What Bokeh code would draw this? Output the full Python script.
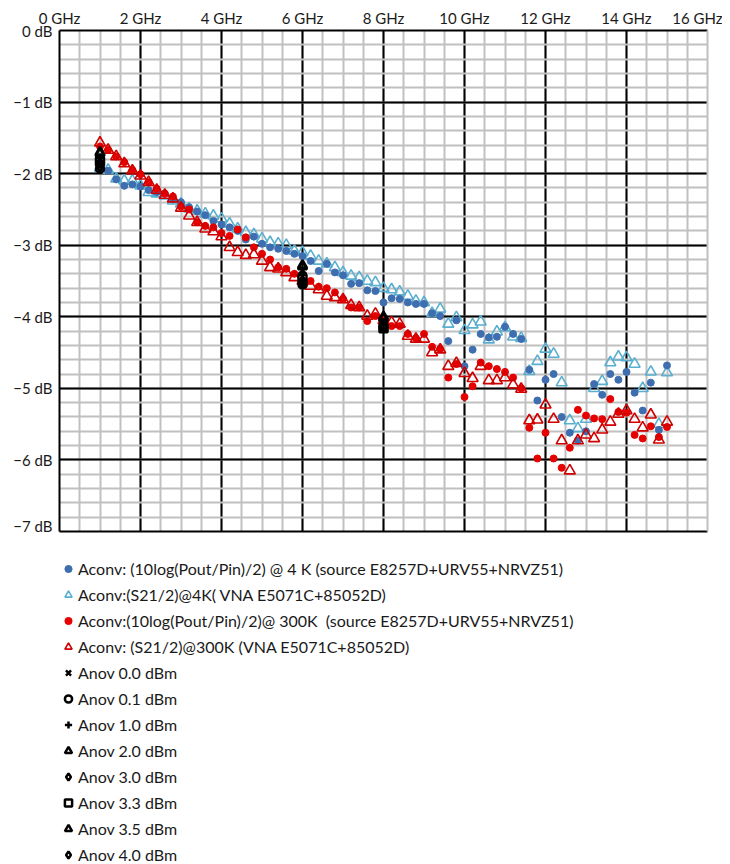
from bokeh.plotting import figure
from bokeh.layouts import column
from bokeh.models import Range1d, FixedTicker, Legend, LegendItem, LinearAxis
from bokeh.embed import file_html
from bokeh.resources import INLINE

# ---------------- data ----------------
freq_ghz = [1.0, 1.2, 1.4, 1.6, 1.8, 2.0, 2.2, 2.4, 2.6, 2.8,
            3.0, 3.2, 3.4, 3.6, 3.8, 4.0, 4.2, 4.4, 4.6, 4.8,
            5.0, 5.2, 5.4, 5.6, 5.8, 6.0, 6.2, 6.4, 6.6, 6.8,
            7.0, 7.2, 7.4, 7.6, 7.8, 8.0, 8.2, 8.4, 8.6, 8.8,
            9.0, 9.2, 9.4, 9.6, 9.8, 10.0, 10.2, 10.4, 10.6, 10.8,
            11.0, 11.2, 11.4, 11.6, 11.8, 12.0, 12.2, 12.4, 12.6, 12.8,
            13.0, 13.2, 13.4, 13.6, 13.8, 14.0, 14.2, 14.4, 14.6, 14.8, 15.0]

aconv_4k_power = [-1.93, -1.96, -2.08, -2.17, -2.15, -2.18, -2.23, -2.26, -2.28, -2.36,
                  -2.40, -2.47, -2.53, -2.58, -2.66, -2.71, -2.75, -2.80, -2.92, -2.88,
                  -2.98, -3.03, -3.05, -3.08, -3.12, -3.15, -3.22, -3.36, -3.26, -3.38,
                  -3.42, -3.54, -3.53, -3.63, -3.64, -3.80, -3.74, -3.75, -3.80, -3.82,
                  -3.82, -3.95, -3.99, -4.34, -4.05, -4.69, -4.46, -4.24, -4.29, -4.28,
                  -4.14, -4.24, -4.31, -4.74, -5.17, -4.88, -4.80, -5.40, -5.62, -5.73,
                  -5.60, -4.94, -5.09, -4.80, -4.88, -4.77, -5.06, -5.31, -4.92, -5.58, -4.68]

aconv_4k_vna = [-1.92, -1.95, -2.07, -2.10, -2.10, -2.17, -2.26, -2.28, -2.31, -2.38,
                -2.42, -2.49, -2.52, -2.56, -2.59, -2.63, -2.70, -2.77, -2.82, -2.85,
                -2.91, -2.96, -2.98, -3.00, -3.08, -3.10, -3.15, -3.22, -3.26, -3.31,
                -3.38, -3.43, -3.45, -3.50, -3.52, -3.60, -3.62, -3.65, -3.71, -3.78,
                -3.80, -3.95, -3.89, -4.10, -4.01, -4.19, -4.11, -4.07, -4.32, -4.21,
                -4.15, -4.28, -4.30, -4.76, -4.62, -4.45, -4.52, -4.92, -5.45, -5.56,
                -5.43, -5.00, -4.90, -4.64, -4.56, -4.57, -4.66, -5.00, -4.77, -5.50, -4.78]

aconv_300k_power = [-1.62, -1.67, -1.76, -1.84, -1.95, -2.01, -2.12, -2.21, -2.28, -2.32,
                    -2.46, -2.50, -2.68, -2.73, -2.75, -2.83, -2.87, -2.78, -2.89, -3.03,
                    -3.12, -3.20, -3.31, -3.33, -3.40, -3.50, -3.50, -3.58, -3.60, -3.66,
                    -3.75, -3.87, -3.87, -4.06, -3.99, -4.03, -4.13, -4.13, -4.24, -4.30,
                    -4.24, -4.42, -4.45, -4.85, -4.66, -5.12, -4.97, -4.64, -4.69, -4.73,
                    -4.77, -4.85, -5.00, -5.55, -5.98, -5.62, -5.98, -6.11, -5.83, -5.30,
                    -5.38, -5.42, -5.43, -5.15, -5.33, -5.34, -5.65, -5.70, -5.53, -5.68, -5.54]

aconv_300k_vna = [-1.57, -1.67, -1.76, -1.86, -1.96, -2.03, -2.12, -2.23, -2.30, -2.35,
                  -2.48, -2.59, -2.68, -2.77, -2.81, -2.88, -3.03, -3.10, -3.14, -3.13,
                  -3.22, -3.31, -3.33, -3.38, -3.45, -3.50, -3.57, -3.62, -3.71, -3.73,
                  -3.76, -3.84, -3.87, -3.99, -3.96, -4.05, -4.08, -4.10, -4.27, -4.31,
                  -4.31, -4.50, -4.46, -4.69, -4.65, -4.79, -4.86, -4.69, -4.89, -4.89,
                  -4.85, -4.95, -5.01, -5.45, -5.44, -5.23, -5.43, -5.73, -6.15, -5.73,
                  -5.65, -5.70, -5.58, -5.47, -5.36, -5.31, -5.43, -5.55, -5.37, -5.72, -5.47]

anov_freq = [1.0, 6.0, 8.0]
anov_0_0 = [-1.80, -3.35, -4.05]
anov_0_1 = [-1.93, -3.55, -4.15]
anov_1_0 = [-1.78, -3.40, -4.08]
anov_2_0 = [-1.72, -3.30, -4.02]
anov_3_0 = [-1.85, -3.50, -4.12]
anov_3_3 = [-1.83, -3.47, -4.16]
anov_3_5 = [-1.70, -3.28, -4.00]
anov_4_0 = [-1.90, -3.53, -4.14]

x_ticks = [0, 2, 4, 6, 8, 10, 12, 14, 16]
x_tick_labels = ["0 GHz", "2 GHz", "4 GHz", "6 GHz", "8 GHz", "10 GHz", "12 GHz", "14 GHz", "16 GHz"]
y_ticks = [0, -1, -2, -3, -4, -5, -6, -7]
y_tick_labels = ["0 dB", "\u22121 dB", "\u22122 dB", "\u22123 dB", "\u22124 dB", "\u22125 dB", "\u22126 dB", "\u22127 dB"]

legend_labels = [
    "Aconv: (10log(Pout/Pin)/2) @ 4 K (source E8257D+URV55+NRVZ51)",
    "Aconv:(S21/2)@4K( VNA E5071C+85052D)",
    "Aconv:(10log(Pout/Pin)/2)@ 300K  (source E8257D+URV55+NRVZ51)",
    "Aconv: (S21/2)@300K (VNA E5071C+85052D)",
    "Anov 0.0 dBm", "Anov 0.1 dBm", "Anov 1.0 dBm", "Anov 2.0 dBm",
    "Anov 3.0 dBm", "Anov 3.3 dBm", "Anov 3.5 dBm", "Anov 4.0 dBm",
]

FONT = "Lato"

# series styles (shared between chart and legend panel)
aconv_series = [
    (aconv_4k_vna, dict(marker="triangle", size=11, fill_color=None, line_color="#5aafd0", line_width=1.6)),
    (aconv_4k_power, dict(marker="circle", size=7, fill_color="#3e6eb0", line_color="#3e6eb0")),
    (aconv_300k_power, dict(marker="circle", size=7, fill_color="#e60000", line_color="#e60000")),
    (aconv_300k_vna, dict(marker="triangle", size=11, fill_color=None, line_color="#d00000", line_width=1.6)),
]
anov_series = [
    (anov_0_0, dict(marker="x", size=9)), (anov_0_1, dict(marker="circle", size=8)),
    (anov_1_0, dict(marker="cross", size=9)), (anov_2_0, dict(marker="triangle", size=9)),
    (anov_3_0, dict(marker="diamond", size=10)), (anov_3_3, dict(marker="square", size=8)),
    (anov_3_5, dict(marker="triangle", size=9)), (anov_4_0, dict(marker="diamond", size=10)),
]
ANOV_STYLE = dict(fill_color=None, line_color="black", line_width=2.5)


def draw_series(fig):
    rs = []
    for vals, st in aconv_series:
        rs.append(fig.scatter(freq_ghz, vals, **st))
    for vals, st in anov_series:
        rs.append(fig.scatter(anov_freq, vals, **st, **ANOV_STYLE))
    # legend order: 4K power, 4K VNA, 300K power, 300K VNA, Anov ...
    return [rs[1], rs[0], rs[2], rs[3]] + rs[4:]


# ---------------- main chart ----------------
p = figure(width=722, height=534, output_backend="svg", toolbar_location=None,
           x_range=Range1d(0, 16), y_range=Range1d(-7, 0),
           x_axis_location="above", min_border_left=59, min_border_top=30,
           min_border_right=15, min_border_bottom=3)
p.outline_line_color = None

p.xgrid.ticker = FixedTicker(ticks=[0, 2, 4, 6, 8, 10, 12, 14],
                             minor_ticks=[i * 0.5 for i in range(33)])
p.ygrid.ticker = FixedTicker(ticks=y_ticks,
                             minor_ticks=[-i * 0.2 for i in range(36)])
for g in (p.xgrid, p.ygrid):
    g.grid_line_color = "black"
    g.grid_line_width = 2
    g.grid_line_alpha = 1
    g.minor_grid_line_color = "#c0c0c0"
    g.minor_grid_line_width = 2
    g.level = "underlay"

p.xaxis.ticker = FixedTicker(ticks=x_ticks)
p.xaxis.major_label_overrides = {t: l for t, l in zip(x_ticks, x_tick_labels)}
p.yaxis.ticker = FixedTicker(ticks=y_ticks)
p.yaxis.major_label_overrides = {t: l for t, l in zip(y_ticks, y_tick_labels)}
for ax in (p.xaxis, p.yaxis):
    ax.axis_line_color = "black"
    ax.axis_line_width = 2
    ax.major_tick_line_color = None
    ax.minor_tick_line_color = None
    ax.major_tick_out = 0
    ax.major_tick_in = 0
    ax.major_label_text_font = FONT
    ax.major_label_text_font_size = "15px"
    ax.major_label_text_color = "#1a1a1a"
p.xaxis.major_label_standoff = 4
p.yaxis.major_label_standoff = 7

bottom_axis = LinearAxis(ticker=FixedTicker(ticks=[]), axis_line_color="black",
                         axis_line_width=2, major_tick_line_color=None,
                         minor_tick_line_color=None, major_tick_out=0, major_tick_in=0)
p.add_layout(bottom_axis, "below")
right_axis = LinearAxis(ticker=FixedTicker(ticks=[]), axis_line_color="#c0c0c0",
                        axis_line_width=2, major_tick_line_color=None,
                        minor_tick_line_color=None, major_tick_out=0, major_tick_in=0)
p.add_layout(right_axis, "right")

draw_series(p)

# ---------------- legend panel ----------------
LG_H = 330
lg = figure(width=722, height=LG_H, output_backend="svg", toolbar_location=None,
            x_range=Range1d(100, 101), y_range=Range1d(100, 101),
            x_axis_type=None, y_axis_type=None,
            min_border_left=0, min_border_right=0, min_border_top=0, min_border_bottom=0)
lg.outline_line_color = None
lg_renderers = draw_series(lg)
items = [LegendItem(label=lab, renderers=[r]) for lab, r in zip(legend_labels, lg_renderers)]
legend = Legend(items=items, location=(0, 0), orientation="vertical",
                label_text_font=FONT, label_text_font_size="16px",
                label_text_color="#1a1a1a", glyph_width=18, glyph_height=19,
                label_height=19, label_standoff=1, spacing=7, padding=0, margin=0,
                border_line_color=None, background_fill_alpha=0)
lg.add_layout(legend, "center")

layout = column(p, lg, spacing=0)
open("out.html", "w").write(file_html(layout, INLINE))
